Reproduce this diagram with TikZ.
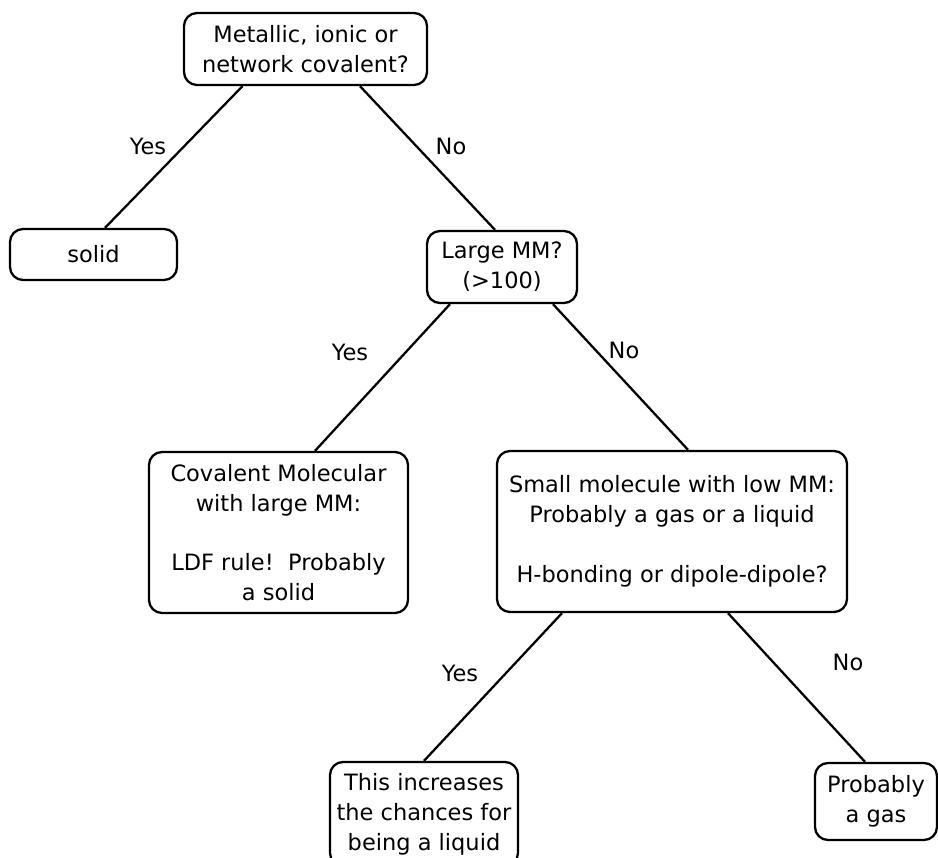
\documentclass[tikz,border=0pt]{standalone}
\usepackage{fontspec}
\setmainfont{DejaVu Sans}
\usepackage{tikz}
\usetikzlibrary{calc}
\tikzset{
  question/.style={
    draw,
    rectangle,
    rounded corners=0.26cm,
    align=center,
    inner sep=2pt,
    font=\fontsize{12.8}{17}\selectfont
  },
  answer/.style={
    font=\fontsize{12.8}{17}\selectfont,
    inner sep=1pt
  }
}

\begin{document}
\begin{tikzpicture}[line width=1.3pt, x=0.02cm, y=-0.02cm]
  \useasboundingbox (0,0) rectangle (938,858);

  \node[question, minimum width=243*0.02cm, minimum height=72*0.02cm] (q1) at (305.5,49)
    {Metallic, ionic or\\network covalent?};
  \node[question, minimum width=167*0.02cm, minimum height=51*0.02cm] (solid) at (93.5,254.5)
    {solid};
  \node[question, minimum width=150*0.02cm, minimum height=72*0.02cm] (q2) at (502,267)
    {Large MM?\\(>100)};
  \node[question, minimum width=259*0.02cm, minimum height=161*0.02cm] (covmol) at (278.5,532.5)
    {Covalent Molecular\\with large MM:\\[17pt]LDF rule!\ \ Probably\\a solid};
  \node[question, minimum width=350*0.02cm, minimum height=161*0.02cm] (small) at (672,531.5)
    {Small molecule with low MM:\\Probably a gas or a liquid\\[17pt]H-bonding or dipole-dipole?};
  \node[question, minimum width=188*0.02cm, minimum height=104*0.02cm] (liquid) at (424,814)
    {This increases\\the chances for\\being a liquid};
  \node[question, minimum width=122*0.02cm, minimum height=77*0.02cm] (gas) at (876,801.5)
    {Probably\\a gas};

  \draw ($(q1.south)+(-63,0)$) -- ($(solid.north)+(11.5,0)$);
  \draw ($(q1.south)+(54.5,0)$) -- ($(q2.north)+(-7,0)$);
  \draw ($(q2.south)+(-52,0)$) -- ($(covmol.north)+(36.5,0)$);
  \draw ($(q2.south)+(51,0)$) -- ($(small.north)+(16,0)$);
  \draw ($(small.south)+(-110,0)$) -- (liquid.north);
  \draw ($(small.south)+(56,0)$) -- ($(gas.north)+(-11,0)$);

  \node[answer] (yes1) at (148,146) {Yes};
  \node[answer] (no1) at (451,146) {No};
  \node[answer] (yes2) at (350,352) {Yes};
  \node[answer] (no2) at (624,350) {No};
  \node[answer] (yes3) at (460,673) {Yes};
  \node[answer] (no3) at (848,662) {No};
\end{tikzpicture}
\end{document}
